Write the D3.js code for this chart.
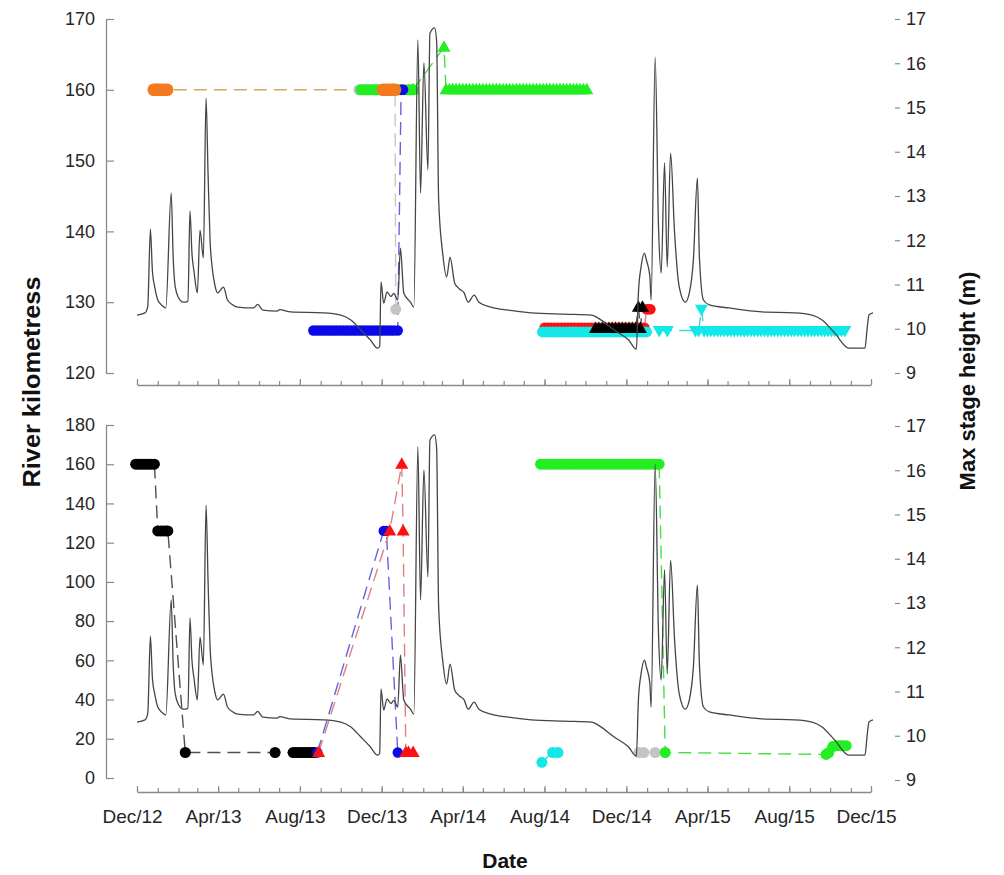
<!DOCTYPE html>
<html>
<head>
<meta charset="utf-8">
<script src="https://cdn.jsdelivr.net/npm/d3@7"></script>
<style>
  html, body { margin: 0; padding: 0; background: #fff; }
  svg { display: block; }
  text { font-family: "Liberation Sans", Arial, sans-serif; }
</style>
</head>
<body>
<svg id="chart" width="1004" height="875"></svg>
<script>
// ---------------- DATA ----------------
const xTickDates  = ["2012-12-01","2013-04-01","2013-08-01","2013-12-01","2014-04-01","2014-08-01","2014-12-01","2015-04-01","2015-08-01","2015-12-01"];
const xTickLabels = ["Dec/12","Apr/13","Aug/13","Dec/13","Apr/14","Aug/14","Dec/14","Apr/15","Aug/15","Dec/15"];
const topKmTicks = [120,130,140,150,160,170];
const botKmTicks = [0,20,40,60,80,100,120,140,160,180];
const stageTicks = [9,10,11,12,13,14,15,16,17];

// Max stage height (m)
const stageSeries = [
 ["2012-12-01",10.31],["2012-12-13",10.36],["2012-12-17",10.50],["2012-12-21",12.25],["2012-12-24",11.30],["2012-12-28",10.90],["2013-01-01",10.65],["2013-01-08",10.52],["2013-01-13",10.47],["2013-01-21",13.07],["2013-01-24",11.60],["2013-01-27",10.95],["2013-02-01",10.70],["2013-02-08",10.60],["2013-02-15",10.62],["2013-02-18",12.66],["2013-02-21",11.70],["2013-02-24",11.30],["2013-03-01",10.81],["2013-03-05",12.23],["2013-03-10",11.60],["2013-03-14",15.21],["2013-03-17",13.5],["2013-03-20",12.00],["2013-03-23",11.40],["2013-03-27",11.00],["2013-03-31",10.81],["2013-04-09",10.94],["2013-04-15",10.65],["2013-04-22",10.55],["2013-04-30",10.49],["2013-05-24",10.47],["2013-05-30",10.55],["2013-06-07",10.42],["2013-06-28",10.40],["2013-07-02",10.43],["2013-07-18",10.38],["2013-09-05",10.36],["2013-10-01",10.31],["2013-10-16",10.20],["2013-10-31",9.97],["2013-11-14",9.75],["2013-11-25",9.56],["2013-11-28",9.60],["2013-11-30",11.06],["2013-12-04",10.58],["2013-12-09",10.83],["2013-12-15",10.73],["2013-12-19",10.80],["2013-12-25",10.65],["2013-12-29",11.82],["2014-01-03",10.81],["2014-01-13",10.60],["2014-01-18",10.49],["2014-01-24",16.53],["2014-01-28",13.07],["2014-02-02",16.01],["2014-02-08",13.59],["2014-02-11",16.68],["2014-02-18",16.80],["2014-02-21",16.50],["2014-02-24",12.91],["2014-03-02",11.71],["2014-03-08",11.17],["2014-03-13",11.62],["2014-03-20",11.03],["2014-03-27",10.90],["2014-04-03",10.81],["2014-04-09",10.60],["2014-04-18",10.76],["2014-04-25",10.60],["2014-05-13",10.49],["2014-06-08",10.42],["2014-07-12",10.36],["2014-08-30",10.33],["2014-10-10",10.31],["2014-10-20",10.24],["2014-11-13",9.97],["2014-12-04",9.75],["2014-12-16",9.54],["2014-12-19",10.81],["2014-12-23",11.40],["2014-12-28",11.71],["2014-12-31",11.55],["2015-01-05",11.20],["2015-01-07",10.65],["2015-01-13",16.14],["2015-01-18",12.30],["2015-01-22",11.26],["2015-01-27",13.75],["2015-01-31",11.40],["2015-02-05",13.97],["2015-02-11",12.16],["2015-02-18",10.94],["2015-02-27",10.60],["2015-03-05",10.81],["2015-03-11",11.55],["2015-03-17",13.41],["2015-03-20",11.62],["2015-03-26",10.65],["2015-04-04",10.54],["2015-05-03",10.47],["2015-06-21",10.38],["2015-08-09",10.36],["2015-09-04",10.31],["2015-09-19",10.20],["2015-10-08",9.90],["2015-10-29",9.56],["2015-11-22",9.56],["2015-11-25",9.97],["2015-11-28",10.31],["2015-12-04",10.36]
];

// ---- Top panel fish detections [date, river km] ----
const topRed = [["2014-08-01",126.4],["2014-08-06",126.4],["2014-08-11",126.4],["2014-08-16",126.4],["2014-08-21",126.4],["2014-08-26",126.4],["2014-08-31",126.4],["2014-09-05",126.4],["2014-09-10",126.4],["2014-09-15",126.4],["2014-09-20",126.4],["2014-09-25",126.4],["2014-09-30",126.4],["2014-10-05",126.4],["2014-10-10",126.4],["2014-10-15",126.4],["2014-10-20",126.4],["2014-10-25",126.4],["2014-10-30",126.4],["2014-11-04",126.4],["2014-11-09",126.4],["2014-11-14",126.4],["2014-11-19",126.4],["2014-11-24",126.4],["2014-11-29",126.4],["2014-12-04",126.4],["2014-12-09",126.4],["2014-12-14",126.4],["2014-12-19",126.4],["2014-12-24",126.4],["2014-12-28",126.4],["2014-12-31",129],["2015-01-03",129],["2015-01-06",129]];
const topCyanCircle = [["2014-07-29",125.8],["2014-08-03",125.8],["2014-08-08",125.8],["2014-08-13",125.8],["2014-08-18",125.8],["2014-08-23",125.8],["2014-08-28",125.8],["2014-09-02",125.8],["2014-09-07",125.8],["2014-09-12",125.8],["2014-09-17",125.8],["2014-09-22",125.8],["2014-09-27",125.8],["2014-10-02",125.8],["2014-10-07",125.8],["2014-10-12",125.8],["2014-10-17",125.8],["2014-10-22",125.8],["2014-10-27",125.8],["2014-11-01",125.8],["2014-11-06",125.8],["2014-11-11",125.8],["2014-11-16",125.8],["2014-11-21",125.8],["2014-11-26",125.8],["2014-12-01",125.8],["2014-12-06",125.8],["2014-12-11",125.8],["2014-12-16",125.8],["2014-12-21",125.8],["2014-12-26",125.8],["2014-12-31",125.8]];
const topCyanTri = [["2015-01-19",126],["2015-01-31",126],["2015-03-14",126],["2015-03-19",126],["2015-03-23",129],["2015-03-27",126],["2015-04-01",126],["2015-04-06",126],["2015-04-11",126],["2015-04-16",126],["2015-04-21",126],["2015-04-26",126],["2015-05-01",126],["2015-05-06",126],["2015-05-11",126],["2015-05-16",126],["2015-05-21",126],["2015-05-26",126],["2015-05-31",126],["2015-06-05",126],["2015-06-10",126],["2015-06-15",126],["2015-06-20",126],["2015-06-25",126],["2015-06-30",126],["2015-07-05",126],["2015-07-10",126],["2015-07-15",126],["2015-07-20",126],["2015-07-25",126],["2015-07-30",126],["2015-08-04",126],["2015-08-09",126],["2015-08-14",126],["2015-08-19",126],["2015-08-24",126],["2015-08-29",126],["2015-09-03",126],["2015-09-08",126],["2015-09-13",126],["2015-09-18",126],["2015-09-23",126],["2015-09-28",126],["2015-10-03",126],["2015-10-08",126],["2015-10-13",126],["2015-10-18",126],["2015-10-23",126]];
const topBlack = [["2014-10-16",126.3],["2014-10-21",126.3],["2014-10-26",126.3],["2014-10-31",126.3],["2014-11-05",126.3],["2014-11-10",126.3],["2014-11-15",126.3],["2014-11-20",126.3],["2014-11-25",126.3],["2014-11-30",126.3],["2014-12-05",126.3],["2014-12-10",126.3],["2014-12-15",126.3],["2014-12-19",129.3],["2014-12-22",126.3],["2014-12-25",129.3]];
const topGray = [["2013-10-28",160],["2013-11-04",160],["2013-11-11",160],["2013-11-18",160],["2013-11-25",160],["2013-12-02",160],["2013-12-09",160],["2013-12-16",160],["2013-12-21",160],["2013-12-22",129]];
const topGreenCircle = [["2013-10-31",160],["2013-11-05",160],["2013-11-10",160],["2013-11-15",160],["2013-11-20",160],["2013-11-25",160],["2013-11-30",160],["2013-12-05",160],["2013-12-10",160],["2013-12-15",160],["2013-12-20",160],["2013-12-25",160],["2013-12-30",160],["2014-01-04",160],["2014-01-09",160],["2014-01-13",160],["2014-01-17",160]];
const topBlue = [["2013-08-21",126],["2013-08-26",126],["2013-08-31",126],["2013-09-05",126],["2013-09-10",126],["2013-09-15",126],["2013-09-20",126],["2013-09-25",126],["2013-09-30",126],["2013-10-05",126],["2013-10-10",126],["2013-10-15",126],["2013-10-20",126],["2013-10-25",126],["2013-10-30",126],["2013-11-04",126],["2013-11-09",126],["2013-11-14",126],["2013-11-19",126],["2013-11-24",126],["2013-11-29",126],["2013-12-04",126],["2013-12-09",126],["2013-12-14",126],["2013-12-19",126],["2013-12-25",126],["2013-12-30",160],["2014-01-02",160]];
const topOrange = [["2012-12-26",160],["2012-12-29",160],["2013-01-01",160],["2013-01-04",160],["2013-01-08",160],["2013-01-11",160],["2013-01-15",160],["2013-12-03",160],["2013-12-07",160],["2013-12-11",160],["2013-12-15",160],["2013-12-18",160],["2013-12-21",160]];
const topGreenTri = [["2014-01-17",160],["2014-03-04",166],["2014-03-07",160],["2014-03-12",160],["2014-03-17",160],["2014-03-22",160],["2014-03-27",160],["2014-04-01",160],["2014-04-06",160],["2014-04-11",160],["2014-04-16",160],["2014-04-21",160],["2014-04-26",160],["2014-05-01",160],["2014-05-06",160],["2014-05-11",160],["2014-05-16",160],["2014-05-21",160],["2014-05-26",160],["2014-05-31",160],["2014-06-05",160],["2014-06-10",160],["2014-06-15",160],["2014-06-20",160],["2014-06-25",160],["2014-06-30",160],["2014-07-05",160],["2014-07-10",160],["2014-07-15",160],["2014-07-20",160],["2014-07-25",160],["2014-07-30",160],["2014-08-04",160],["2014-08-09",160],["2014-08-14",160],["2014-08-19",160],["2014-08-24",160],["2014-08-29",160],["2014-09-03",160],["2014-09-08",160],["2014-09-13",160],["2014-09-18",160],["2014-09-23",160],["2014-09-28",160],["2014-10-03",160]];

// ---- Bottom panel fish detections [date, river km] ----
const botBlack = [["2012-11-29",160],["2012-12-03",160],["2012-12-07",160],["2012-12-11",160],["2012-12-15",160],["2012-12-19",160],["2012-12-23",160],["2012-12-27",160],["2013-01-01",126],["2013-01-05",126],["2013-01-09",126],["2013-01-13",126],["2013-01-16",126],["2013-02-11",13],["2013-06-25",13],["2013-07-22",13],["2013-07-26",13],["2013-07-30",13],["2013-08-03",13],["2013-08-07",13],["2013-08-11",13],["2013-08-15",13],["2013-08-19",13],["2013-08-23",13]];
const botBlue = [["2013-08-27",13],["2013-12-04",126],["2013-12-08",126],["2013-12-25",13]];
const botRed = [["2013-08-29",13],["2013-12-13",126],["2013-12-31",160],["2014-01-02",126],["2014-01-06",13],["2014-01-10",13],["2014-01-17",13]];
const botCyan = [["2014-07-28",8],["2014-08-13",13],["2014-08-21",13]];
const botGray = [["2014-12-20",13],["2014-12-27",13],["2015-01-13",13]];
const botGreen = [["2014-07-26",160],["2014-07-31",160],["2014-08-05",160],["2014-08-10",160],["2014-08-15",160],["2014-08-20",160],["2014-08-25",160],["2014-08-30",160],["2014-09-04",160],["2014-09-09",160],["2014-09-14",160],["2014-09-19",160],["2014-09-24",160],["2014-09-29",160],["2014-10-04",160],["2014-10-09",160],["2014-10-14",160],["2014-10-19",160],["2014-10-24",160],["2014-10-29",160],["2014-11-03",160],["2014-11-08",160],["2014-11-13",160],["2014-11-18",160],["2014-11-23",160],["2014-11-28",160],["2014-12-03",160],["2014-12-08",160],["2014-12-13",160],["2014-12-18",160],["2014-12-23",160],["2014-12-28",160],["2015-01-02",160],["2015-01-07",160],["2015-01-12",160],["2015-01-16",160],["2015-01-19",160],["2015-01-28",13],["2015-09-25",12],["2015-09-29",13],["2015-10-05",16],["2015-10-09",16.5],["2015-10-13",16.5],["2015-10-17",16.5],["2015-10-21",16.5],["2015-10-25",16.5]];

// ---------------- DRAWING ----------------
const parse = d3.timeParse("%Y-%m-%d");
const svg = d3.select("#chart");
svg.append("rect").attr("width",1004).attr("height",875).attr("fill","#fff");

const x = d3.scaleTime().domain([parse("2012-12-01"), parse("2015-12-01")]).range([137, 871]);
const monthTicks = d3.timeMonth.range(parse("2012-12-01"), parse("2015-12-02"));
const majorTicks = xTickDates.map(parse);

const axisColor = "#8a8a8a";
const textColor = "#262626";

const styles = {
  orange: {fill:"#f47a1f", line:"#d9a860", shape:"circle", r:6.3},
  gray:   {fill:"#c4c4c4", line:"#c8c8c8", shape:"circle", r:5.5},
  green:  {fill:"#22ee22", line:"#44e044", shape:"circle", r:5.5},
  greenT: {fill:"#22ee22", line:"#44e044", shape:"up", r:5.5},
  blue:   {fill:"#0a0ae6", line:"#6464e0", shape:"circle", r:5.2},
  red:    {fill:"#ff1010", line:"#e08080", shape:"circle", r:5.2},
  redT:   {fill:"#ff1010", line:"#e08080", shape:"up", r:5.5},
  black:  {fill:"#000000", line:"#505050", shape:"circle", r:5.5},
  blackT: {fill:"#000000", line:"#505050", shape:"up", r:5.5},
  cyan:   {fill:"#12e8e8", line:"#40d8d8", shape:"circle", r:5.5},
  cyanD:  {fill:"#12e8e8", line:"#40d8d8", shape:"down", r:5.5}
};

function symbolPath(shape){
  if (shape === "up") return "M0,-7L6.5,4.5L-6.5,4.5Z";
  return "M0,7L6.5,-4.5L-6.5,-4.5Z";
}

function drawPanel(cfg){
  const g = svg.append("g");
  const yL = d3.scaleLinear().domain(cfg.kmDomain).range(cfg.kmRange);
  const yR = d3.scaleLinear().domain([9,17]).range(cfg.stageRange);

  const la = g.append("g").attr("transform","translate(106,0)")
    .call(d3.axisLeft(yL).tickValues(cfg.kmTicks).tickSize(-8).tickPadding(11).tickSizeOuter(0));
  const ra = g.append("g").attr("transform","translate(895,0)")
    .call(d3.axisRight(yR).tickValues(stageTicks).tickSize(5).tickPadding(6));
  ra.select(".domain").remove();
  const xa = g.append("g").attr("transform",`translate(0,${cfg.xAxisY})`)
    .call(d3.axisBottom(x).tickValues(monthTicks).tickSize(-4).tickSizeOuter(0).tickFormat(""));
  const xm = g.append("g").attr("transform",`translate(0,${cfg.xAxisY})`)
    .call(d3.axisBottom(x).tickValues(majorTicks).tickSize(-6).tickSizeOuter(0).tickPadding(18)
      .tickFormat((d,i)=> cfg.labels ? xTickLabels[i] : ""));
  xm.select(".domain").remove();
  [la, ra, xa, xm].forEach(a => {
    a.selectAll("path.domain").attr("stroke", axisColor).attr("stroke-width",1.3);
    a.selectAll(".tick line").attr("stroke", axisColor).attr("stroke-width",1.2);
    a.selectAll("text").attr("fill", textColor).attr("font-family","Liberation Sans, Arial, sans-serif");
  });
  la.selectAll("text").attr("font-size",18);
  ra.selectAll("text").attr("font-size",18);
  xm.selectAll("text").attr("font-size",19).attr("dx",-5);

  const line = d3.line().x(d=>x(parse(d[0]))).y(d=>yL(d[1]));
  cfg.fish.forEach(f => {
    const st = styles[f.style];
    g.append("path").datum(f.data).attr("d", line)
      .attr("fill","none").attr("stroke", st.line).attr("stroke-width",1.4)
      .attr("stroke-dasharray","13,7");
  });
  cfg.fish.forEach(f => {
    const st = styles[f.style];
    const mg = g.append("g");
    if (st.shape === "circle") {
      mg.selectAll("circle").data(f.data).join("circle")
        .attr("cx", d=>x(parse(d[0]))).attr("cy", d=>yL(d[1])).attr("r", st.r)
        .attr("fill", st.fill);
    } else {
      mg.selectAll("path").data(f.data).join("path")
        .attr("transform", d=>`translate(${x(parse(d[0]))},${yL(d[1])})`)
        .attr("d", symbolPath(st.shape)).attr("fill", st.fill);
    }
  });

  const hl = d3.line().curve(d3.curveMonotoneX).x(d=>x(parse(d[0]))).y(d=>yR(d[1]));
  g.append("path").datum(stageSeries).attr("d", hl)
    .attr("fill","none").attr("stroke","#454545").attr("stroke-width",1.3)
    .attr("stroke-linejoin","round");
}

drawPanel({
  kmDomain:[120,170], kmRange:[373,19], kmTicks: topKmTicks,
  stageRange:[373,19], xAxisY:385, labels:false,
  fish:[
    {data: topRed, style:"red"},
    {data: topCyanCircle, style:"cyan"},
    {data: topBlack, style:"blackT"},
    {data: topCyanTri, style:"cyanD"},
    {data: topGray, style:"gray"},
    {data: topGreenCircle, style:"green"},
    {data: topBlue, style:"blue"},
    {data: topOrange, style:"orange"},
    {data: topGreenTri, style:"greenT"}
  ]
});

drawPanel({
  kmDomain:[0,180], kmRange:[778,425], kmTicks: botKmTicks,
  stageRange:[780,426], xAxisY:792, labels:true,
  fish:[
    {data: botBlack, style:"black"},
    {data: botBlue, style:"blue"},
    {data: botRed, style:"redT"},
    {data: botCyan, style:"cyan"},
    {data: botGray, style:"gray"},
    {data: botGreen, style:"green"}
  ]
});

svg.append("text").text("River kilometress")
  .attr("transform","translate(40,382) rotate(-90)")
  .attr("text-anchor","middle").attr("font-weight","bold").attr("font-size",24)
  .attr("textLength",211).attr("lengthAdjust","spacingAndGlyphs")
  .attr("fill","#111");
svg.append("text").text("Max stage height (m)")
  .attr("transform","translate(975,381) rotate(-90)")
  .attr("text-anchor","middle").attr("font-weight","bold").attr("font-size",22)
  .attr("fill","#111");
svg.append("text").text("Date")
  .attr("x",505).attr("y",868)
  .attr("text-anchor","middle").attr("font-weight","bold").attr("font-size",21)
  .attr("fill","#111");
</script>
</body>
</html>
